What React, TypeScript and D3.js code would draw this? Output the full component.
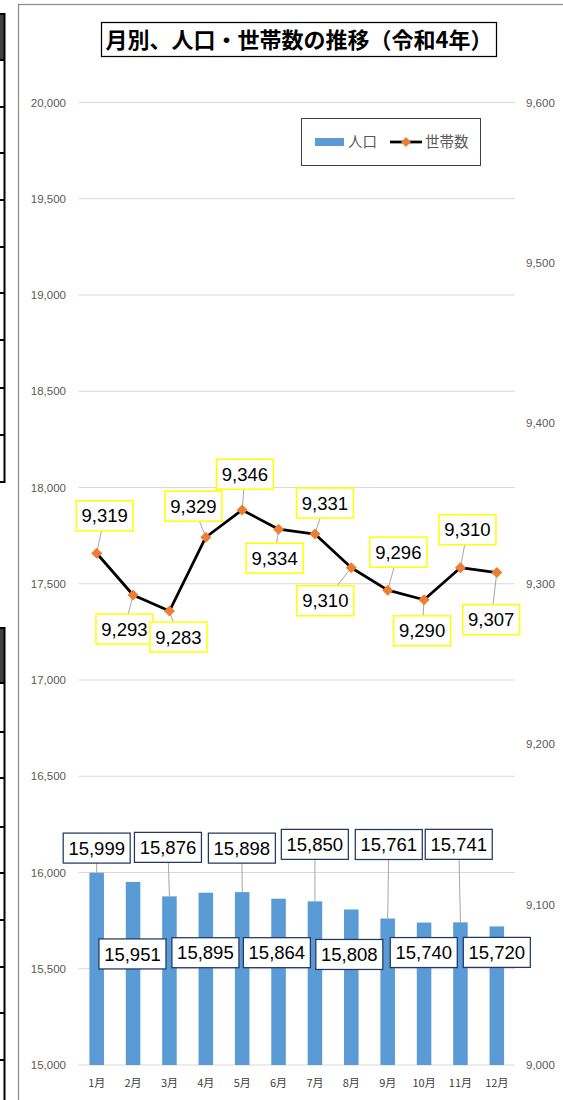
import React from "react";
import * as d3 from "d3";

// ---- data ----
const months = ["1月", "2月", "3月", "4月", "5月", "6月", "7月", "8月", "9月", "10月", "11月", "12月"];
const population = [15999, 15951, 15876, 15895, 15898, 15864, 15850, 15808, 15761, 15740, 15741, 15720];
const households = [9319, 9293, 9283, 9329, 9346, 9334, 9331, 9310, 9296, 9290, 9310, 9307];
const leftTicks = [15000, 15500, 16000, 16500, 17000, 17500, 18000, 18500, 19000, 19500, 20000];
const rightTicks = [9000, 9100, 9200, 9300, 9400, 9500, 9600];
const title = "月別、人口・世帯数の推移（令和4年）";
const seriesNames = ["人口", "世帯数"];

// ---- label layout (offsets of label box centres from their marks, px) ----
const lineLabelOffsets: [number, number][] = [
  [8, -37.5], [-8.6, 34], [9, 26], [-12.4, -31], [2.7, -35.7], [-4, 29],
  [10, -31], [-26, 33], [10.6, -38], [-2, 31], [7, -38], [-5.6, 47],
];
const barLabelOffsets: [number, number][] = [
  [0, -24.6], [-0.6, 72], [-1.5, -49], [-0.4, 60], [-0.3, -44], [-1.7, 54],
  [-0.1, -57], [-2, 45], [1.1, -74], [-0.3, 30], [-1.7, -78], [0, 26],
];

const W = 563;
const H = 1100;
const plotLeft = 78.5;
const plotRight = 515;
const plotTop = 102.5;
const plotBottom = 1065;

const numFont = "'Liberation Sans', Arial, sans-serif";
const cjkFont = "'Noto Sans CJK JP', 'Noto Sans', sans-serif";
const fmt = d3.format(",");

function clipToBox(px: number, py: number, cx: number, cy: number, hw: number, hh: number) {
  const dx = px - cx;
  const dy = py - cy;
  const tx = dx === 0 ? Infinity : hw / Math.abs(dx);
  const ty = dy === 0 ? Infinity : hh / Math.abs(dy);
  const t = Math.min(tx, ty);
  if (t >= 1) return null;
  return [cx + dx * t, cy + dy * t];
}

function diamond(cx: number, cy: number, r: number) {
  return `M${cx},${cy - r}L${cx + r},${cy}L${cx},${cy + r}L${cx - r},${cy}Z`;
}

export default function App() {
  const x = d3.scaleBand<string>().domain(months).range([plotLeft, plotRight]).paddingInner(0.6).paddingOuter(0.3);
  const yL = d3.scaleLinear().domain([15000, 20000]).range([plotBottom, plotTop]);
  const yR = d3.scaleLinear().domain([9000, 9600]).range([plotBottom, plotTop]);
  const cx = (m: string) => (x(m) as number) + x.bandwidth() / 2;

  const linePath = d3
    .line<number>()
    .x((_, i) => cx(months[i]))
    .y((d) => yR(d))(households) as string;

  // left table fragments (background decoration)
  const table1Lines = [60, 107, 153, 200, 247, 293, 340, 388, 435];
  const table2Lines = [683, 732, 778, 827, 873, 920, 967, 1013, 1060];

  const lbW = 57, lbH = 30;
  const bbW = 67, bbH = 30;

  return (
    <svg width={W} height={H} style={{ position: "absolute", left: 0, top: 0, background: "#fff" }}>
      <rect x={0} y={0} width={W} height={H} fill="#fff" />
      {/* table fragments on left edge */}
      <g>
        <rect x={-2} y={14} width={6.5} height={46} fill="#404040" />
        <rect x={-2} y={14} width={6.5} height={468} fill="none" stroke="#000" strokeWidth={2} />
        {table1Lines.map((yy) => (
          <line key={"t1" + yy} x1={-2} x2={4.5} y1={yy} y2={yy} stroke="#000" strokeWidth={2} />
        ))}
        <rect x={-2} y={628} width={6.5} height={55} fill="#404040" />
        <rect x={-2} y={628} width={6.5} height={480} fill="none" stroke="#000" strokeWidth={2} />
        {table2Lines.map((yy) => (
          <line key={"t2" + yy} x1={-2} x2={4.5} y1={yy} y2={yy} stroke="#000" strokeWidth={2} />
        ))}
      </g>
      {/* chart frame */}
      <rect x={18.5} y={4.5} width={600} height={1200} fill="#fff" stroke="#8c8c8c" strokeWidth={1.25} />

      {/* title */}
      <rect x={101.5} y={22.5} width={395} height={34} fill="#fff" stroke="#000" strokeWidth={1.25} />
      <text x={299} y={40} dy="0.36em" textAnchor="middle" fontFamily={cjkFont} fontWeight={700} fontSize={22} fill="#000">
        {title}
      </text>

      {/* gridlines */}
      {leftTicks.map((t) => (
        <line key={"g" + t} x1={plotLeft} x2={plotRight} y1={yL(t)} y2={yL(t)} stroke="#d9d9d9" strokeWidth={1} />
      ))}

      {/* left axis labels */}
      {leftTicks.map((t) => (
        <text key={"l" + t} x={66} y={yL(t)} dy="0.35em" textAnchor="end" fontFamily={numFont} fontSize={11.5} fill="#595959">
          {fmt(t)}
        </text>
      ))}
      {/* right axis labels */}
      {rightTicks.map((t) => (
        <text key={"r" + t} x={526} y={yR(t)} dy="0.35em" textAnchor="start" fontFamily={numFont} fontSize={11.5} fill="#595959">
          {fmt(t)}
        </text>
      ))}
      {/* category labels */}
      {months.map((m) => (
        <text key={"c" + m} x={cx(m)} y={1083} dy="0.35em" textAnchor="middle" fontFamily={cjkFont} fontSize={11} fill="#404040">
          {m}
        </text>
      ))}

      {/* bars */}
      {population.map((v, i) => (
        <rect key={"b" + i} x={x(months[i])} y={yL(v)} width={x.bandwidth()} height={yL(15000) - yL(v)} fill="#5b9bd5" />
      ))}

      {/* bar leader lines */}
      {population.map((v, i) => {
        const px = cx(months[i]);
        const py = yL(v);
        const bx = px + barLabelOffsets[i][0];
        const by = py + barLabelOffsets[i][1];
        if (barLabelOffsets[i][1] > 0) return null;
        const e = clipToBox(px, py, bx, by, bbW / 2, bbH / 2);
        if (!e) return null;
        return <line key={"bl" + i} x1={px} y1={py} x2={e[0]} y2={e[1]} stroke="#a6a6a6" strokeWidth={1} />;
      })}

      {/* bar labels */}
      {population.map((v, i) => {
        const bx = cx(months[i]) + barLabelOffsets[i][0];
        const by = yL(v) + barLabelOffsets[i][1];
        return (
          <g key={"bt" + i}>
            <rect x={bx - bbW / 2} y={by - bbH / 2} width={bbW} height={bbH} fill="#fff" stroke="#203864" strokeWidth={1.25} />
            <text x={bx} y={by} dy="0.36em" textAnchor="middle" fontFamily={numFont} fontSize={18.5} fill="#000">
              {fmt(v)}
            </text>
          </g>
        );
      })}

      {/* line leader lines */}
      {households.map((v, i) => {
        const px = cx(months[i]);
        const py = yR(v);
        const bx = px + lineLabelOffsets[i][0];
        const by = py + lineLabelOffsets[i][1];
        const e = clipToBox(px, py, bx, by, lbW / 2, lbH / 2);
        if (!e) return null;
        return <line key={"ll" + i} x1={px} y1={py} x2={e[0]} y2={e[1]} stroke="#a6a6a6" strokeWidth={1} />;
      })}

      {/* line */}
      <path d={linePath} fill="none" stroke="#000" strokeWidth={2.75} strokeLinejoin="round" />
      {households.map((v, i) => (
        <path key={"m" + i} d={diamond(cx(months[i]), yR(v), 5.5)} fill="#ed7d31" />
      ))}

      {/* line labels */}
      {households.map((v, i) => {
        const bx = cx(months[i]) + lineLabelOffsets[i][0];
        const by = yR(v) + lineLabelOffsets[i][1];
        return (
          <g key={"lt" + i}>
            <rect x={bx - lbW / 2} y={by - lbH / 2} width={lbW} height={lbH} fill="#fff" stroke="#ffff00" strokeWidth={1.5} />
            <text x={bx} y={by} dy="0.36em" textAnchor="middle" fontFamily={numFont} fontSize={18.5} fill="#000">
              {fmt(v)}
            </text>
          </g>
        );
      })}

      {/* legend */}
      <rect x={301.5} y={118.5} width={179} height={47} fill="#fff" stroke="#404040" strokeWidth={1} />
      <rect x={315} y={138} width={29} height={8} fill="#5b9bd5" />
      <text x={348} y={142} dy="0.36em" fontFamily={cjkFont} fontSize={14.5} fill="#595959">
        {seriesNames[0]}
      </text>
      <line x1={390} x2={422} y1={142} y2={142} stroke="#000" strokeWidth={2.75} />
      <path d={diamond(406, 142, 5)} fill="#ed7d31" />
      <text x={425} y={142} dy="0.36em" fontFamily={cjkFont} fontSize={14.5} fill="#595959">
        {seriesNames[1]}
      </text>
    </svg>
  );
}
